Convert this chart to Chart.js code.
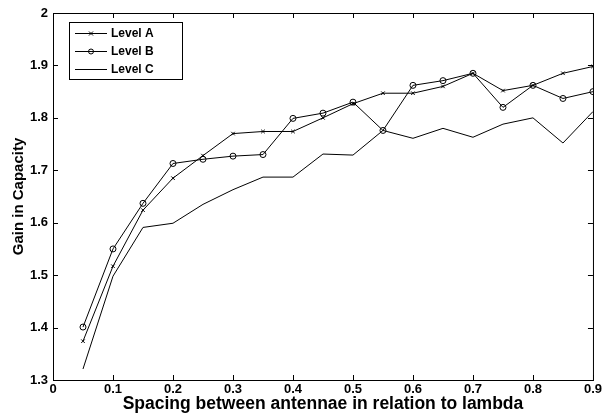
<!DOCTYPE html>
<html>
<head>
<meta charset="utf-8">
<script src="https://cdn.jsdelivr.net/npm/chart.js@4/dist/chart.umd.min.js"></script>
<style>
  html, body { margin: 0; padding: 0; background: #fff; }
  #wrap { width: 604px; height: 416px; }
</style>
</head>
<body>
<div id="wrap"><canvas id="myChart" width="604" height="416"></canvas></div>
<script>
// --------------
// DATA
// --------------
const spacing = [0.05, 0.1, 0.15, 0.2, 0.25, 0.3, 0.35, 0.4, 0.45, 0.5, 0.55, 0.6, 0.65, 0.7, 0.75, 0.8, 0.85, 0.9];
const levelA = [1.374, 1.517, 1.624, 1.685, 1.728, 1.770, 1.774, 1.774, 1.800, 1.827, 1.847, 1.847, 1.860, 1.885, 1.852, 1.862, 1.885, 1.898];
const levelB = [1.401, 1.550, 1.637, 1.713, 1.721, 1.727, 1.730, 1.799, 1.809, 1.830, 1.776, 1.862, 1.871, 1.885, 1.820, 1.862, 1.837, 1.850];
const levelC = [1.321, 1.498, 1.591, 1.599, 1.635, 1.663, 1.687, 1.687, 1.731, 1.729, 1.776, 1.761, 1.780, 1.763, 1.788, 1.800, 1.752, 1.812];

const xTicks = [0, 0.1, 0.2, 0.3, 0.4, 0.5, 0.6, 0.7, 0.8, 0.9];
const xTickLabels = ['0', '0.1', '0.2', '0.3', '0.4', '0.5', '0.6', '0.7', '0.8', '0.9'];
const yTicks = [1.3, 1.4, 1.5, 1.6, 1.7, 1.8, 1.9, 2];
const yTickLabels = ['1.3', '1.4', '1.5', '1.6', '1.7', '1.8', '1.9', '2'];

const FONT = '"Liberation Sans", Arial, sans-serif';

// --------------
// PLUGINS
// --------------
// frame + inward tick marks on all four sides
const framePlugin = {
  id: 'frame',
  afterDraw(chart) {
    const { ctx, chartArea: a, scales } = chart;
    ctx.save();
    ctx.strokeStyle = '#000';
    ctx.lineWidth = 1;
    ctx.strokeRect(a.left + 0.5, a.top + 0.5, a.right - a.left, a.bottom - a.top);
    ctx.beginPath();
    const len = 5;
    xTicks.forEach(v => {
      const x = Math.round(scales.x.getPixelForValue(v)) + 0.5;
      ctx.moveTo(x, a.bottom); ctx.lineTo(x, a.bottom - len);
      ctx.moveTo(x, a.top); ctx.lineTo(x, a.top + len);
    });
    yTicks.forEach(v => {
      const y = Math.round(scales.y.getPixelForValue(v)) + 0.5;
      ctx.moveTo(a.left, y); ctx.lineTo(a.left + len, y);
      ctx.moveTo(a.right, y); ctx.lineTo(a.right - len, y);
    });
    ctx.stroke();
    ctx.restore();
  }
};

// legend box drawn inside the plot, top-left
const insideLegend = {
  id: 'insideLegend',
  afterDraw(chart) {
    const { ctx, chartArea: a } = chart;
    const boxX = a.left + 16, boxY = a.top + 9, boxW = 113, boxH = 57;
    ctx.save();
    ctx.fillStyle = '#fff';
    ctx.fillRect(boxX, boxY, boxW, boxH);
    ctx.strokeStyle = '#000';
    ctx.lineWidth = 1;
    ctx.strokeRect(boxX + 0.5, boxY + 0.5, boxW, boxH);
    ctx.font = 'bold 12px ' + FONT;
    ctx.textBaseline = 'middle';
    chart.data.datasets.forEach((ds, i) => {
      const y = boxY + 11.5 + i * 18;
      const x0 = boxX + 6, x1 = boxX + 38;
      ctx.strokeStyle = '#000';
      ctx.beginPath();
      ctx.moveTo(x0, y); ctx.lineTo(x1, y);
      ctx.stroke();
      const mx = (x0 + x1) / 2;
      if (ds.pointStyle === 'circle') {
        ctx.beginPath(); ctx.arc(mx, y, 2.5, 0, Math.PI * 2); ctx.stroke();
      } else if (ds.pointStyle === 'crossRot') {
        ctx.beginPath();
        ctx.moveTo(mx - 2, y - 2); ctx.lineTo(mx + 2, y + 2);
        ctx.moveTo(mx - 2, y + 2); ctx.lineTo(mx + 2, y - 2);
        ctx.stroke();
      }
      ctx.fillStyle = '#000';
      ctx.fillText(ds.label, boxX + 42, y + 0.5);
    });
    ctx.restore();
  }
};

// --------------
// CHART
// --------------
const toPoints = vals => spacing.map((x, i) => ({ x: x, y: vals[i] }));

const common = {
  borderColor: '#000',
  backgroundColor: 'transparent',
  borderWidth: 1,
  pointBorderColor: '#000',
  pointBackgroundColor: 'transparent',
  pointBorderWidth: 1,
  tension: 0
};

const ctx = document.getElementById('myChart').getContext('2d');
const chart = new Chart(ctx, {
  type: 'line',
  data: {
    datasets: [
      Object.assign({ label: 'Level A', data: toPoints(levelA), pointStyle: 'crossRot', pointRadius: 2.5 }, common),
      Object.assign({ label: 'Level B', data: toPoints(levelB), pointStyle: 'circle', pointRadius: 3 }, common),
      Object.assign({ label: 'Level C', data: toPoints(levelC), pointStyle: false, pointRadius: 0 }, common)
    ]
  },
  options: {
    responsive: false,
    animation: false,
    parsing: false,
    layout: { padding: { top: 13, right: 7, left: 0, bottom: 0 } },
    plugins: {
      legend: { display: false },
      tooltip: { enabled: false }
    },
    scales: {
      x: {
        type: 'linear',
        min: 0,
        max: 0.9,
        afterBuildTicks: s => { s.ticks = xTicks.map(v => ({ value: v })); },
        afterFit: s => { s.height = 36; },
        grid: { display: false, drawTicks: false },
        border: { display: false },
        ticks: {
          color: '#000',
          padding: 2,
          maxRotation: 0,
          autoSkip: false,
          font: { family: FONT, size: 13, weight: 'bold' },
          callback: (v, i) => xTickLabels[i]
        },
        title: {
          display: true,
          text: 'Spacing between antennae in relation to lambda',
          color: '#000',
          padding: { top: 0, bottom: 1.5 },
          font: { family: FONT, size: 17.5, weight: 'bold' }
        }
      },
      y: {
        type: 'linear',
        min: 1.3,
        max: 2,
        afterBuildTicks: s => { s.ticks = yTicks.map(v => ({ value: v })); },
        afterFit: s => { s.width = 53; },
        grid: { display: false, drawTicks: false },
        border: { display: false },
        ticks: {
          color: '#000',
          padding: 5,
          autoSkip: false,
          font: { family: FONT, size: 13, weight: 'bold' },
          callback: (v, i) => yTickLabels[i]
        },
        title: {
          display: true,
          text: 'Gain in Capacity',
          color: '#000',
          padding: { top: 10, bottom: 0 },
          font: { family: FONT, size: 15, weight: 'bold' }
        }
      }
    }
  },
  plugins: [framePlugin, insideLegend]
});
</script>
</body>
</html>
